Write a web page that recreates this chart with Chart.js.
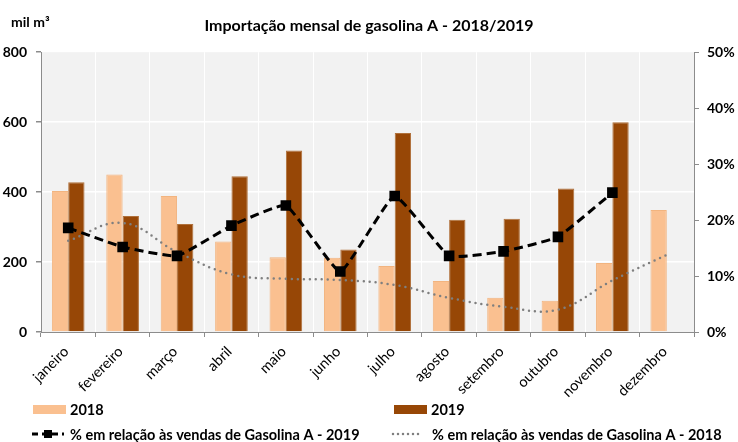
<!DOCTYPE html>
<html>
<head>
<meta charset="utf-8">
<script src="https://cdn.jsdelivr.net/npm/chart.js@4"></script>
<style>
  body { margin: 0; background: #fff; }
  #wrap { width: 738px; height: 442px; }
</style>
</head>
<body>
<div id="wrap"><canvas id="importChart" width="738" height="442"></canvas></div>
<script>
// monthly gasoline A imports, thousand m3, and share of sales (%)
const months = ['janeiro', 'fevereiro', 'março', 'abril', 'maio', 'junho',
  'julho', 'agosto', 'setembro', 'outubro', 'novembro', 'dezembro'];
const import2018 = [403, 450, 389, 259, 214, 212, 189, 146, 98, 89, 197, 349];
const import2019 = [428, 332, 309, 445, 519, 236, 569, 321, 324, 410, 600, null];
const share2019 = [18.6, 15.2, 13.6, 19.0, 22.6, 10.8, 24.3, 13.6, 14.4, 17.0, 24.9, null];
const share2018 = [16.3, 19.5, 14.3, 10.3, 9.5, 9.3, 8.4, 6.1, 4.5, 4.0, 9.2, 13.8];
const leftTicks = [0, 200, 400, 600, 800];
const rightTicks = [0, 10, 20, 30, 40, 50];

const FONT = 'Lato, "DejaVu Sans", sans-serif';
const AXIS_GRAY = '#8c8c8c';

// plot area background
const plotBg = {
  id: 'plotBg',
  beforeDraw(chart) {
    const { ctx, chartArea: a } = chart;
    ctx.save();
    ctx.fillStyle = '#f2f2f2';
    ctx.fillRect(a.left, a.top, a.right - a.left, a.bottom - a.top);
    ctx.restore();
  }
};

// unit label + two-column legend at the bottom
const extras = {
  id: 'extras',
  afterDraw(chart) {
    const ctx = chart.ctx;
    const ds = chart.data.datasets;
    ctx.save();
    ctx.fillStyle = '#000';
    ctx.font = 'bold 14px ' + FONT;
    ctx.textBaseline = 'middle';
    ctx.textAlign = 'left';
    ctx.fillText('mil m³', 11, 22);

    ctx.font = 'bold 14.5px ' + FONT;
    // bars
    [[ds[0], 33, 70], [ds[1], 394, 431]].forEach(([d, x, tx]) => {
      ctx.fillStyle = d.backgroundColor;
      ctx.fillRect(x, 405, 33, 9);
      ctx.fillStyle = '#000';
      ctx.fillText(d.label, tx, 410);
    });

    // dashed 2019 line
    const l19 = ds[2];
    ctx.strokeStyle = l19.borderColor;
    ctx.lineWidth = 3;
    ctx.setLineDash([6, 4]);
    ctx.beginPath();
    ctx.moveTo(32, 434);
    ctx.lineTo(64, 434);
    ctx.stroke();
    ctx.setLineDash([]);
    ctx.fillStyle = '#000';
    ctx.fillRect(44, 430, 8, 8);
    ctx.fillText(l19.label, 70, 435);

    // dotted 2018 line
    const l18 = ds[3];
    ctx.strokeStyle = l18.borderColor;
    ctx.lineWidth = 2.5;
    ctx.lineCap = 'round';
    ctx.setLineDash([0, 5]);
    ctx.beginPath();
    ctx.moveTo(393, 434);
    ctx.lineTo(423, 434);
    ctx.stroke();
    ctx.setLineDash([]);
    ctx.fillStyle = '#000';
    ctx.fillText(l18.label, 432, 435);
    ctx.restore();
  }
};

new Chart(document.getElementById('importChart'), {
  type: 'bar',
  data: {
    labels: months,
    datasets: [
      {
        label: '2018', data: import2018, yAxisID: 'y', order: 2,
        backgroundColor: '#fac090', borderColor: '#f2b47f', borderWidth: 1,
        barPercentage: 1, categoryPercentage: 0.6
      },
      {
        label: '2019', data: import2019, yAxisID: 'y', order: 2,
        backgroundColor: '#974706', borderColor: '#b0703a', borderWidth: 1,
        barPercentage: 1, categoryPercentage: 0.6
      },
      {
        type: 'line', label: '% em relação às vendas de Gasolina A - 2019',
        data: share2019, yAxisID: 'y1', order: 0,
        borderColor: '#000', borderWidth: 3, borderDash: [9, 5], tension: 0.12,
        pointStyle: 'rect', pointRadius: 7.5, pointBackgroundColor: '#000',
        pointBorderColor: '#000', pointBorderWidth: 0, fill: false
      },
      {
        type: 'line', label: '% em relação às vendas de Gasolina A - 2018',
        data: share2018, yAxisID: 'y1', order: 1,
        borderColor: '#7f7f7f', borderWidth: 2.5, borderDash: [0, 6],
        borderCapStyle: 'round', tension: 0.4, pointRadius: 0, fill: false
      }
    ]
  },
  options: {
    responsive: false,
    animation: false,
    events: [],
    layout: { padding: 0 },
    plugins: {
      legend: { display: false },
      tooltip: { enabled: false },
      title: {
        display: true,
        text: 'Importação mensal de gasolina A - 2018/2019',
        color: '#000',
        font: { family: FONT, size: 16, weight: 'bold', lineHeight: 1.2 },
        padding: { top: 16, bottom: 17 }
      }
    },
    scales: {
      x: {
        offset: true,
        grid: {
          offset: true,
          color: (c) => (c.index === 0 || c.index === months.length) ? 'rgba(0,0,0,0)' : '#ffffff',
          lineWidth: 1,
          tickColor: AXIS_GRAY,
          tickLength: 5
        },
        border: { color: AXIS_GRAY, width: 1 },
        ticks: {
          color: '#000',
          font: { family: FONT, size: 14.5 },
          minRotation: 45, maxRotation: 45,
          autoSkip: false, padding: 6, labelOffset: -2
        },
        afterFit: (s) => { s.height = 110; }
      },
      y: {
        position: 'left',
        min: 0, max: 800,
        afterBuildTicks: (s) => { s.ticks = leftTicks.map(v => ({ value: v })); },
        grid: {
          color: (c) => (c.tick && (c.tick.value === 0 || c.tick.value === 800)) ? 'rgba(0,0,0,0)' : '#ffffff',
          lineWidth: 1.5,
          tickColor: AXIS_GRAY,
          tickLength: 5
        },
        border: { color: AXIS_GRAY, width: 1 },
        ticks: {
          color: '#000',
          font: { family: FONT, size: 14, weight: 'bold' },
          padding: 9
        },
        afterFit: (s) => { s.width = 41; }
      },
      y1: {
        position: 'right',
        min: 0, max: 50,
        afterBuildTicks: (s) => { s.ticks = rightTicks.map(v => ({ value: v })); },
        grid: {
          drawOnChartArea: false,
          tickColor: AXIS_GRAY,
          tickLength: 5
        },
        border: { color: AXIS_GRAY, width: 1 },
        ticks: {
          color: '#000',
          font: { family: FONT, size: 14, weight: 'bold' },
          padding: 8,
          callback: (v) => v + '%'
        },
        afterFit: (s) => { s.width = 44; }
      }
    }
  },
  plugins: [plotBg, extras]
});
</script>
</body>
</html>
